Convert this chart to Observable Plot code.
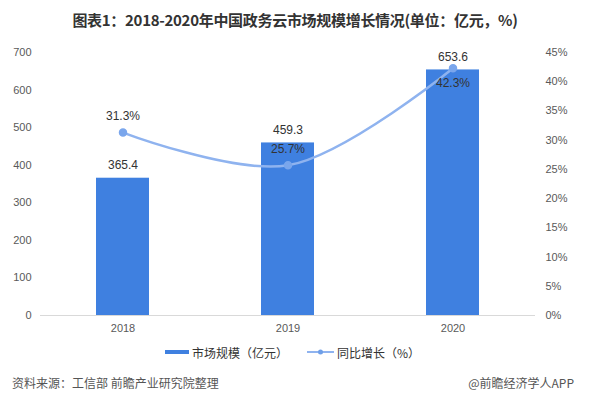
<!DOCTYPE html>
<html>
<head>
<meta charset="utf-8">
<script src="https://cdn.jsdelivr.net/npm/d3@7"></script>
<script src="https://cdn.jsdelivr.net/npm/@observablehq/plot@0.6"></script>
<style>
  html, body { margin: 0; padding: 0; background: #fff; }
  #wrap { position: relative; width: 590px; height: 397px; background: #fff; overflow: hidden;
          font-family: "Noto Sans CJK SC", "Microsoft YaHei", sans-serif; }
  #title { position: absolute; top: 9px; left: 0; width: 590px; text-align: center;
           font-size: 15px; font-weight: bold; color: #333; letter-spacing: -0.3px; }
  #chart { position: absolute; top: 0; left: 0; }
  #legend { position: absolute; top: 343px; left: 0; width: 590px; font-size: 12px; color: #333; }
  .lg { position: absolute; top: 0; display: flex; align-items: center; height: 18px; }
  #footer-l { position: absolute; left: 12px; top: 374px; font-size: 12px; color: #555; }
  #footer-r { position: absolute; right: 16px; top: 374px; font-size: 12px; color: #555; }
</style>
</head>
<body>
<div id="wrap">
  <div id="chart"></div>
  <div id="title"></div>
  <div id="legend">
    <div class="lg" style="left:165px">
      <svg width="24" height="18"><rect x="0" y="7" width="24" height="4" fill="#3f80e0"></rect></svg>
      <span id="lg1" style="margin-left:3px"></span>
    </div>
    <div class="lg" style="left:307px">
      <svg width="27" height="18"><line x1="0" y1="9" x2="27" y2="9" stroke="#8fb3ef" stroke-width="2"></line><circle cx="13.5" cy="9" r="2.5" fill="#6f9fe8"></circle></svg>
      <span id="lg2" style="margin-left:3px"></span>
    </div>
  </div>
  <div id="footer-l"></div>
  <div id="footer-r"></div>
</div>
<script>
// ---- data ----
const years = ["2018", "2019", "2020"];
const marketSize = [365.4, 459.3, 653.6];      // 亿元
const growth = [31.3, 25.7, 42.3];              // %
const leftTicks = [0, 100, 200, 300, 400, 500, 600, 700];
const rightTicks = [0, 5, 10, 15, 20, 25, 30, 35, 40, 45];
const titleText = "图表1：2018-2020年中国政务云市场规模增长情况(单位：亿元，%)";
const seriesNames = ["市场规模（亿元）", "同比增长（%）"];
const sourceText = "资料来源：工信部 前瞻产业研究院整理";
const brandText = "@前瞻经济学人APP";

// ---- build ----
const leftMax = 700, rightMax = 45;
const toLeft = p => p * leftMax / rightMax;
const rows = years.map((y, i) => ({year: y, size: marketSize[i], growth: growth[i], gy: toLeft(growth[i])}));
const maxGrowth = d3.max(growth);

document.getElementById("title").textContent = titleText;
document.getElementById("lg1").textContent = seriesNames[0];
document.getElementById("lg2").textContent = seriesNames[1];
document.getElementById("footer-l").textContent = sourceText;
document.getElementById("footer-r").textContent = brandText;

const numFont = "Liberation Sans, Arial, sans-serif";
const barColor = "#3f80e0";
const lineColor = "#8fb3ef";
const lblStyle = {letterSpacing: "1px"};

const chart = Plot.plot({
  width: 590,
  height: 397,
  marginTop: 52,
  marginBottom: 82,
  marginLeft: 40,
  marginRight: 55,
  style: {background: "transparent", fontFamily: numFont},
  x: {domain: years, paddingInner: 0.68, paddingOuter: 0.34, label: null},
  y: {domain: [0, leftMax], label: null},
  marks: [
    Plot.barY(rows, {x: "year", y: "size", fill: barColor}),
    Plot.ruleY([0], {stroke: "#d9d9d9", strokeWidth: 1}),
    Plot.axisY({ticks: leftTicks, tickSize: 0, tickPadding: 9, label: null,
                fontSize: 11, color: "#595959", anchor: "left"}),
    Plot.axisX({tickSize: 0, tickPadding: 9, label: null, fontSize: 11, color: "#595959"}),
    Plot.text(rightTicks, {y: d => toLeft(d), text: d => d + "%", frameAnchor: "right",
                textAnchor: "start", dx: 10, fontSize: 11, fill: "#595959"}),
    Plot.line(rows, {x: "year", y: "gy", stroke: lineColor, strokeWidth: 2.5, curve: "catmull-rom"}),
    Plot.dot(rows, {x: "year", y: "gy", r: 3.5, fill: "#7aa6ec", stroke: "#7aa6ec"}),
    Plot.text(rows, {x: "year", y: "size", text: d => d.size.toFixed(1), dy: -13,
                fontSize: 12, fill: "#333", style: lblStyle}),
    Plot.text(rows.filter(d => d.growth !== maxGrowth), {x: "year", y: "gy", text: d => d.growth.toFixed(1) + "%",
                dy: -16, fontSize: 12, fill: "#333", style: lblStyle}),
    Plot.text(rows.filter(d => d.growth === maxGrowth), {x: "year", y: "gy", text: d => d.growth.toFixed(1) + "%",
                dy: 15, fontSize: 12, fill: "#333", style: lblStyle})
  ]
});
document.getElementById("chart").appendChild(chart);
</script>
</body>
</html>
